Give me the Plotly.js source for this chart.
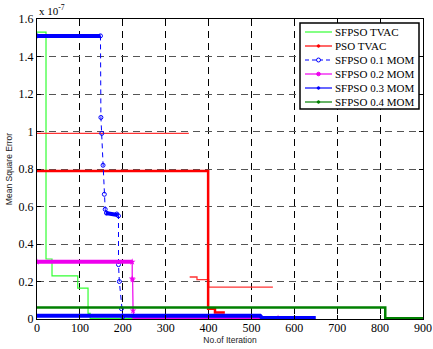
<!DOCTYPE html>
<html>
<head>
<meta charset="utf-8">
<script src="https://cdn.plot.ly/plotly-3.0.1.min.js"></script>
<style>html,body{margin:0;padding:0;background:#fff}#chart{width:433px;height:349px}</style>
</head>
<body>
<div id="chart"></div>
<script>
// values in units of 1e-7 (axis multiplier shown as "x 10^-7")
var seriesNames = ["SFPSO TVAC", "PSO TVAC", "SFPSO 0.1 MOM", "SFPSO 0.2 MOM", "SFPSO 0.3 MOM", "SFPSO 0.4 MOM"];

var tvacX = [0, 21, 21, 35, 35, 95, 95, 119, 119, 124, 124, 233];
var tvacY = [1.53, 1.53, 0.32, 0.32, 0.23, 0.23, 0.165, 0.165, 0.03, 0.03, 0.003, 0.003];

var psoX = [0, 399, 399, 415, 415, 438];
var psoY = [0.79, 0.79, 0.055, 0.055, 0.035, 0.035];
var psoExtraX = [0, 354, null, 356, 373, 373, 400, 400, 550];
var psoExtraY = [0.99, 0.99, null, 0.224, 0.224, 0.21, 0.21, 0.17, 0.17];

var mom1X = [0, 148, 149, 151, 154, 157, 159, 162, 186, 190, 190, 192, 197, 200, 520];
var mom1Y = [1.51, 1.51, 1.075, 0.99, 0.82, 0.665, 0.585, 0.565, 0.56, 0.55, 0.29, 0.2, 0.055, 0.012, 0.012];
var mom1PlateauX = [0, 148, null, 160, 188];
var mom1PlateauY = [1.51, 1.51, null, 0.565, 0.555];

var mom2X = [0, 222, 222, 223, 224, 226, 562];
var mom2Y = [0.305, 0.305, 0.215, 0.21, 0.045, 0.005, 0.005];
var mom2PlateauX = [0, 222, null, 226, 562];
var mom2PlateauY = [0.305, 0.305, null, 0.005, 0.005];

var mom3X = [0, 520, 525, 650];
var mom3Y = [0.018, 0.018, 0.005, 0.005];

var mom4X = [0, 812, 812, 900];
var mom4Y = [0.062, 0.062, 0.004, 0.004];

var xTicks = [0, 100, 200, 300, 400, 500, 600, 700, 800, 900];
var yTicks = [0, 0.2, 0.4, 0.6, 0.8, 1, 1.2, 1.4, 1.6];

// style per series (for the legend box)
var seriesColors = ["#33ff33", "#ff0000", "#0000ff", "#ee00ee", "#0000ff", "#008000"];
var seriesDash = ["solid", "solid", "dash", "solid", "solid", "solid"];
var seriesMarker = [null, "dot", "circle-open", "star", "dot", "dot"];

var traces = [
  {x: tvacX, y: tvacY, name: seriesNames[0], mode: "lines", line: {color: seriesColors[0], width: 1.2}},
  {x: psoExtraX, y: psoExtraY, name: seriesNames[1], mode: "lines", line: {color: "#ff3333", width: 1.3}, connectgaps: false},
  {x: psoX, y: psoY, name: seriesNames[1], mode: "lines", line: {color: seriesColors[1], width: 2.5}},
  {x: mom1X, y: mom1Y, name: seriesNames[2], mode: "lines+markers", line: {color: seriesColors[2], width: 1, dash: "5px,4px"},
   marker: {symbol: "circle-open", size: 4, color: seriesColors[2], line: {width: 1}}},
  {x: mom1PlateauX, y: mom1PlateauY, name: seriesNames[2], mode: "lines", line: {color: seriesColors[2], width: 4}},
  {x: mom2X, y: mom2Y, name: seriesNames[3], mode: "lines+markers", line: {color: seriesColors[3], width: 1.2},
   marker: {symbol: "star", size: 5, color: seriesColors[3]}},
  {x: mom2PlateauX, y: mom2PlateauY, name: seriesNames[3], mode: "lines", line: {color: seriesColors[3], width: 4}},
  {x: mom3X, y: mom3Y, name: seriesNames[4], mode: "lines", line: {color: seriesColors[4], width: 4}},
  {x: mom4X, y: mom4Y, name: seriesNames[5], mode: "lines", line: {color: seriesColors[5], width: 2.5}}
];

// legend box drawn in paper coordinates (plot area: 386 x 300 px)
var PW = 386, PH = 300;
function px(dx) { return dx / PW; }
function py(dy) { return dy / PH; }
var legLeft = 1 - px(4 + 119), legRight = 1 - px(4), legTop = 1 - py(4), legBottom = 1 - py(90);
var shapes = [{type: "rect", xref: "paper", yref: "paper", x0: legLeft, x1: legRight, y0: legBottom, y1: legTop,
               line: {color: "#000", width: 1.5}, fillcolor: "#fff", layer: "above"}];
var annotations = [{
  xref: "paper", yref: "paper", x: 0, y: 1, xanchor: "left", yanchor: "bottom",
  text: "x 10<sup>-7</sup>", showarrow: false,
  font: {family: "Liberation Serif, Times New Roman, serif", size: 11, color: "#000"}
}];
for (var i = 0; i < seriesNames.length; i++) {
  var rowY = legTop - py(9 + 14 * i);
  var lx0 = legLeft + px(5), lx1 = legLeft + px(32), lmid = (lx0 + lx1) / 2;
  shapes.push({type: "line", xref: "paper", yref: "paper", x0: lx0, x1: lx1, y0: rowY, y1: rowY,
               line: {color: seriesColors[i], width: 1.2, dash: seriesDash[i] === "dash" ? "4px,3px" : "solid"}, layer: "above"});
  var m = seriesMarker[i];
  if (m) {
    var r = m === "dot" ? 1.3 : (m === "star" ? 1.8 : 2);
    shapes.push({type: "circle", xref: "paper", yref: "paper", x0: lmid - px(r), x1: lmid + px(r), y0: rowY - py(r), y1: rowY + py(r),
                 line: {color: seriesColors[i], width: 1}, fillcolor: m === "circle-open" ? "#fff" : seriesColors[i], layer: "above"});
  }
  annotations.push({xref: "paper", yref: "paper", x: legLeft + px(33), y: rowY, xanchor: "left", yanchor: "middle",
                    text: seriesNames[i], showarrow: false, xshift: 0,
                    font: {family: "Liberation Serif, Times New Roman, serif", size: 11, color: "#000"}});
}

var tickFont = {family: "Liberation Serif, Times New Roman, serif", size: 12, color: "#000"};

var layout = {
  width: 433, height: 349,
  margin: {l: 37, r: 10, t: 19, b: 30, pad: 0},
  paper_bgcolor: "#fff", plot_bgcolor: "#fff",
  showlegend: false,
  xaxis: {
    range: [0, 900], tickvals: xTicks, ticks: "inside", ticklen: 4, tickcolor: "#000",
    showline: true, linecolor: "#000", linewidth: 1, mirror: "ticks",
    showgrid: true, gridcolor: "#000", griddash: "7px,5px", gridwidth: 1,
    zeroline: false, tickfont: tickFont, automargin: false, ticklabelstandoff: -2,
    title: {text: "No.of Iteration", font: {family: "Liberation Sans, Arial, sans-serif", size: 8.5, color: "#222"}, standoff: 0}
  },
  yaxis: {
    range: [0, 1.6], tickvals: yTicks, ticks: "inside", ticklen: 4, tickcolor: "#000",
    showline: true, linecolor: "#000", linewidth: 1, mirror: "ticks",
    showgrid: true, gridcolor: "#555", griddash: "7px,5px", gridwidth: 1,
    zeroline: false, tickfont: tickFont, automargin: false,
    title: {text: "Mean Square Error", font: {family: "Liberation Sans, Arial, sans-serif", size: 8.5, color: "#222"}, standoff: 4}
  },
  shapes: shapes,
  annotations: annotations
};

Plotly.newPlot("chart", traces, layout, {displayModeBar: false, staticPlot: true});
</script>
</body>
</html>
